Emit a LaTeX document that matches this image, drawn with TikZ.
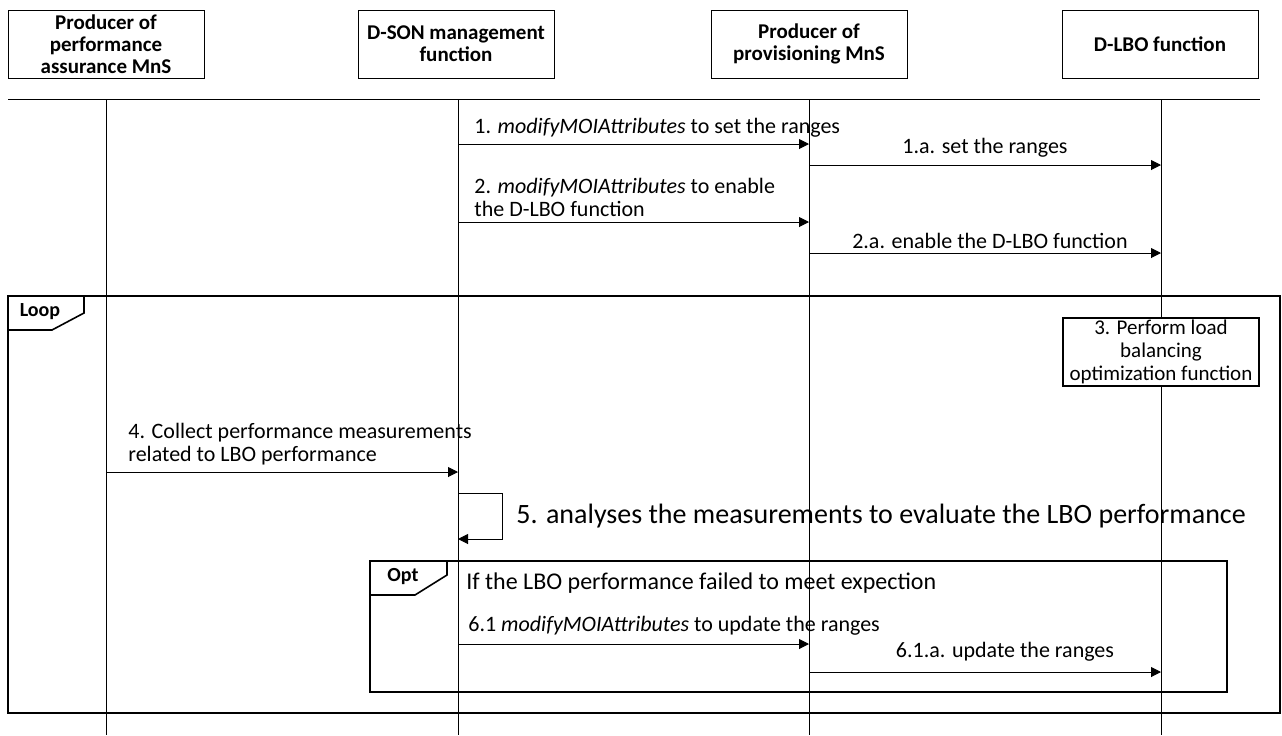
\documentclass[tikz,border=0pt]{standalone}
\usepackage{fontspec}
\setmainfont{Carlito}
\usetikzlibrary{positioning}
\usetikzlibrary{arrows.meta}
\tikzset{%
  mymsg/.style={-{Triangle[length=5pt,width=5pt]}, line width=0.5pt},
  myhead/.style={draw=black, line width=0.5pt, minimum width=98pt, minimum height=34pt, align=center, inner sep=1pt, font=\bfseries\fontsize{10.5}{11}\selectfont},
  mylabel/.style={inner sep=0pt, align=left, font=\fontsize{11}{11.5}\selectfont},
  mylife/.style={line width=0.5pt},
  myframe/.style={line width=0.8pt},
  mytab/.style={inner sep=0pt, font=\bfseries\fontsize{10}{11}\selectfont}
}
\begin{document}
\begin{tikzpicture}[x=0.5pt,y=-0.5pt]
  \useasboundingbox (0,0) rectangle (1282,735);
  \node[myhead] (pa) at (106,44) {Producer of\\performance\\assurance MnS};
  \node[myhead] (son) at (456,44) {D-SON management\\function};
  \node[myhead] (prov) at (809,44) {Producer of\\provisioning MnS};
  \node[myhead] (lbo) at (1160,44) {D-LBO function};
  \coordinate (sepL) at (8,99);
  \coordinate (sepR) at (1260,99);
  \draw [mylife] (sepL) -- (sepR);
  \coordinate (paT) at (106,99);   \coordinate (paB) at (106,735);
  \coordinate (sonT) at (458,99);  \coordinate (sonB) at (458,735);
  \coordinate (provT) at (809,99); \coordinate (provB) at (809,735);
  \coordinate (lboT) at (1161,99); \coordinate (lboB) at (1161,735);
  \draw [mylife] (paT) -- (paB);
  \draw [mylife] (sonT) -- (sonB);
  \draw [mylife] (provT) -- (provB);
  \draw [mylife] (lboT) -- (lboB);
  \coordinate (m1a) at (458,144);  \coordinate (m1b) at (809,144);
  \draw [mymsg] (m1a) -- (m1b);
  \node[mylabel, anchor=west] (l1) at (474,128) {1. \textit{modifyMOIAttributes} to set the ranges};
  \coordinate (m1c) at (809,165);  \coordinate (m1d) at (1161,165);
  \draw [mymsg] (m1c) -- (m1d);
  \node[mylabel] (l1a) at (985,148) {1.a. set the ranges};
  \coordinate (m2a) at (458,222);  \coordinate (m2b) at (809,222);
  \draw [mymsg] (m2a) -- (m2b);
  \node[mylabel, anchor=west] (l2) at (474,197) {2. \textit{modifyMOIAttributes} to enable\\the D-LBO function};
  \coordinate (m2c) at (809,253);  \coordinate (m2d) at (1161,253);
  \draw [mymsg] (m2c) -- (m2d);
  \node[mylabel] (l2a) at (990,241) {2.a. enable the D-LBO function};
  \coordinate (loopA) at (8,296);
  \coordinate (loopB) at (1280,713);
  \draw [myframe] (loopA) rectangle (loopB);
  \draw [myframe] (8,330) -- (52,330) -- (84,313) -- (84,296);
  \node[mytab] (looplbl) at (40,312) {Loop};
  \node[draw=black, fill=white, line width=0.6pt, minimum width=98pt, minimum height=33.5pt, inner sep=1pt, align=center, font=\fontsize{10.5}{11.5}\selectfont] (perf) at (1161,352) {3. Perform load\\balancing\\optimization function};
  \coordinate (m4a) at (106,472);  \coordinate (m4b) at (458,472);
  \draw [mymsg] (m4a) -- (m4b);
  \node[mylabel, anchor=west] (l4) at (128,444) {4. Collect performance measurements\\related to LBO performance};
  \coordinate (m5a) at (458,493);  \coordinate (m5b) at (458,539);
  \draw [mymsg] (m5a) -- (502,493) -- (502,539) -- (m5b);
  \node[mylabel, anchor=west, font=\fontsize{14}{15}\selectfont] (l5) at (516,516) {5. analyses the measurements to evaluate the LBO performance};
  \coordinate (optA) at (370,561);
  \coordinate (optB) at (1227,692);
  \draw [myframe] (optA) rectangle (optB);
  \draw [myframe] (370,595) -- (415,595) -- (447,575) -- (447,561);
  \node[mytab] (optlbl) at (403,577) {Opt};
  \node[mylabel, anchor=west, font=\fontsize{12}{13}\selectfont] (cond) at (466,583) {If the LBO performance failed to meet expection};
  \coordinate (m6a) at (458,644);  \coordinate (m6b) at (809,644);
  \draw [mymsg] (m6a) -- (m6b);
  \node[mylabel, anchor=west] (l6) at (468,626) {6.1 \textit{modifyMOIAttributes} to update the ranges};
  \coordinate (m6c) at (809,672);  \coordinate (m6d) at (1161,672);
  \draw [mymsg] (m6c) -- (m6d);
  \node[mylabel] (l6a) at (1005,652) {6.1.a. update the ranges};
\end{tikzpicture}
\end{document}
